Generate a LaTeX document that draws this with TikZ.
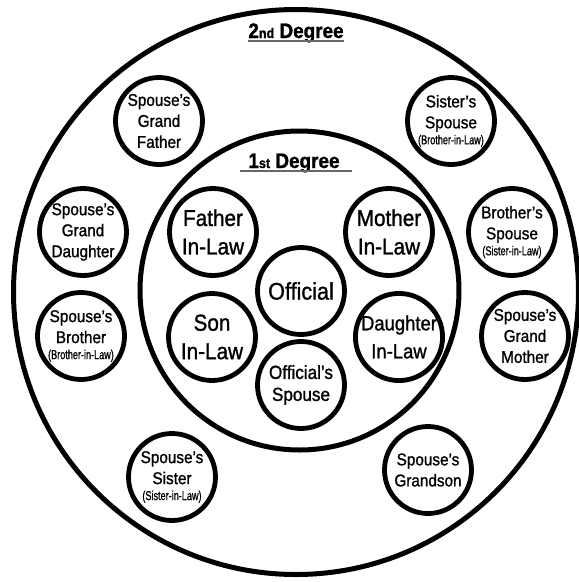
\documentclass[tikz,border=0pt]{standalone}
\usepackage{fontspec}
\setmainfont[FakeStretch=0.9,FakeBold=1.2]{Liberation Sans}
\newfontfamily\narrowfont[FakeStretch=0.7,FakeBold=0.8]{Liberation Sans}
\usepackage{tikz}
\usetikzlibrary{positioning}
\tikzset{
    ring/.style={draw, line width=5pt},
    member/.style={circle, draw, line width=4.8pt, minimum size=87pt, inner sep=0pt, align=center},
    firstdeg/.style={member, font=\fontsize{23}{28.5}\selectfont},
    seconddeg/.style={member, font=\fontsize{17}{21}\selectfont},
    degtitle/.style={inner sep=0pt, anchor=base, font=\bfseries\fontsize{21}{24}\selectfont},
    titleline/.style={gray!80!black, line width=1.2pt}
}
\newcommand{\inlaw}[1]{{\narrowfont\fontsize{13}{13}\selectfont #1}}
\newcommand{\smallord}[1]{{\fontsize{14}{14}\selectfont #1}}

\begin{document}
\begin{tikzpicture}[x=1pt, y=-1pt]
    \useasboundingbox (0,0) rectangle (579,582);
    \draw[ring] (296,292) circle (282.5pt);
    \draw[ring] (299.5,290.5) circle (159.5pt);
    \node[degtitle] (deg2) at (296,38) {2\smallord{nd} Degree};
    \node[degtitle] (deg1) at (294,168) {1\smallord{st} Degree};
    \draw[titleline] ([yshift=-3pt]deg2.base west) -- ([yshift=-3pt]deg2.base east);
    \draw[titleline] ([xshift=-8pt,yshift=-3pt]deg1.base west) -- ([xshift=12pt,yshift=-3pt]deg1.base east);
    \node[firstdeg, font=\fontsize{24}{28}\selectfont] (official) at (301,291) {Official};
    \node[firstdeg, font=\fontsize{19}{22}\selectfont] (spouse) at (301,385) {Official’s\\Spouse};
    \node[firstdeg] (fatherinlaw) at (213,232) {Father\\In-Law};
    \node[firstdeg] (motherinlaw) at (389,232) {Mother\\In-Law};
    \node[firstdeg] (soninlaw) at (212,337) {Son\\In-Law};
    \node[firstdeg, font=\fontsize{20.5}{28}\selectfont] (daughterinlaw) at (399,337) {Daughter\\In-Law};
    \node[seconddeg] (grandfather) at (159,121) {Spouse’s\\Grand\\Father};
    \node[seconddeg] (sisterspouse) at (451,121) {Sister’s\\Spouse\\[-5pt]\inlaw{(Brother-in-Law)}};
    \node[seconddeg] (granddaughter) at (83,232) {Spouse’s\\Grand\\Daughter};
    \node[seconddeg] (brotherspouse) at (512,232) {Brother’s\\Spouse\\[-5pt]\inlaw{(Sister-in-Law)}};
    \node[seconddeg] (spousebrother) at (81,336) {Spouse’s\\Brother\\[-5pt]\inlaw{(Brother-in-Law)}};
    \node[seconddeg] (grandmother) at (525,336) {Spouse’s\\Grand\\Mother};
    \node[seconddeg] (spousesister) at (172,477) {Spouse’s\\Sister\\[-5pt]\inlaw{(Sister-in-Law)}};
    \node[seconddeg] (grandson) at (428,470) {Spouse’s\\Grandson};
\end{tikzpicture}
\end{document}
